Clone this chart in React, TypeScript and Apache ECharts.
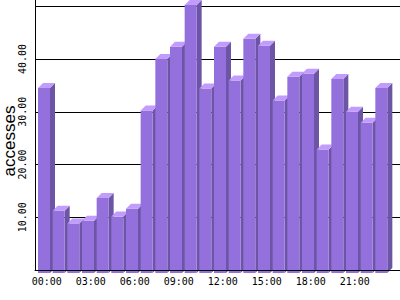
import React, { useEffect, useRef } from 'react';
import * as echarts from 'echarts';

const hours: string[] = [
  '00:00', '01:00', '02:00', '03:00', '04:00', '05:00', '06:00', '07:00',
  '08:00', '09:00', '10:00', '11:00', '12:00', '13:00', '14:00', '15:00',
  '16:00', '17:00', '18:00', '19:00', '20:00', '21:00', '22:00', '23:00',
];
const accesses: number[] = [
  35.1, 11.8, 9.4, 9.9, 14.2, 10.7, 12.2, 30.8,
  40.6, 42.9, 50.8, 35.0, 42.9, 36.5, 44.4, 43.1,
  32.7, 37.2, 37.8, 23.4, 36.8, 30.6, 28.5, 35.1,
];
const yMin = 0;
const yMax = 51.2;
const yStep = 10;
const yLabelMax = 40;
const yTitle = 'accesses';

const FRONT = '#9370db';
const SIDE = '#6d55a5';
const TOP = '#c29cfc';
const MONO = '"DejaVu Sans Mono", "Liberation Mono", monospace';

export default function App() {
  const ref = useRef<HTMLDivElement>(null);
  useEffect(() => {
    if (!ref.current) return;
    const chart = echarts.init(ref.current, undefined, { renderer: 'svg' });
    const option: any = {
      animation: false,
      backgroundColor: '#ffffff',
      grid: [
        { left: 35, right: 0, top: 0, bottom: 30, outerBoundsMode: 'none', containLabel: false },
        { left: 35, right: 13, top: 0, bottom: 30, outerBoundsMode: 'none', containLabel: false },
      ],
      xAxis: [
        {
          gridIndex: 0, type: 'value', min: 0, max: 1, z: 10,
          axisLine: { show: true, lineStyle: { color: '#000', width: 1 } },
          axisTick: { show: false }, axisLabel: { show: false }, splitLine: { show: false },
        },
        {
          gridIndex: 1, type: 'category', data: hours, boundaryGap: true,
          axisLine: { show: false }, axisTick: { show: false }, splitLine: { show: false },
          axisLabel: {
            interval: 2, color: '#000', fontFamily: MONO, fontSize: 10,
            margin: 6, padding: [0, 0, 0, 9], lineHeight: 10,
          },
        },
      ],
      yAxis: [
        {
          gridIndex: 0, type: 'value', min: yMin, max: yMax, interval: yStep,
          axisLine: { show: true, lineStyle: { color: '#000', width: 1 } },
          axisTick: { show: false },
          splitLine: { show: true, showMinLine: false, showMaxLine: false, lineStyle: { color: '#000', width: 1 } },
          axisLabel: {
            rotate: 90, showMinLabel: false, showMaxLabel: false, margin: 8,
            color: '#000', fontFamily: MONO, fontSize: 10, lineHeight: 10,
            formatter: (v: number) => (v <= yLabelMax ? v.toFixed(2) : ''),
          },
        },
        {
          gridIndex: 1, type: 'value', min: yMin, max: yMax, interval: yStep, show: false,
          splitLine: { show: false },
        },
      ],
      graphic: [
        {
          type: 'text', x: 9, y: 141, rotation: Math.PI / 2,
          style: {
            text: yTitle, fill: '#000', font: '17px "Liberation Sans", Arial, sans-serif',
            textAlign: 'center', textVerticalAlign: 'middle',
          },
        },
      ],
      series: [
        {
          type: 'custom', xAxisIndex: 1, yAxisIndex: 1, clip: false,
          encode: { x: 0, y: 1 },
          data: hours.map((_, i) => [i, accesses[i]]),
          renderItem: (params: any, api: any) => {
            const idx = api.value(0);
            const v = api.value(1);
            const top = api.coord([idx, v]);
            const base = api.coord([idx, 0]);
            const band = api.size([1, 0])[0];
            const w = 12, d = 5, drop = 3;
            const x0 = top[0] - band / 2 + 3;
            const yTop = top[1] + drop;
            const yBot = base[1] + drop;
            return {
              type: 'group',
              children: [
                { type: 'polygon', shape: { points: [[x0 + w, yTop], [x0 + w + d, yTop - d], [x0 + w + d, yBot - d], [x0 + w, yBot]] }, style: { fill: SIDE } },
                { type: 'rect', shape: { x: x0, y: yTop, width: w, height: yBot - yTop }, style: { fill: FRONT } },
                { type: 'polygon', shape: { points: [[x0, yTop], [x0 + d, yTop - d], [x0 + w + d, yTop - d], [x0 + w, yTop]] }, style: { fill: TOP } },
              ],
            };
          },
        },
      ],
    };
    chart.setOption(option);
    return () => chart.dispose();
  }, []);
  return <div ref={ref} style={{ position: 'absolute', left: 0, top: 0, width: 400, height: 300 }} />;
}
